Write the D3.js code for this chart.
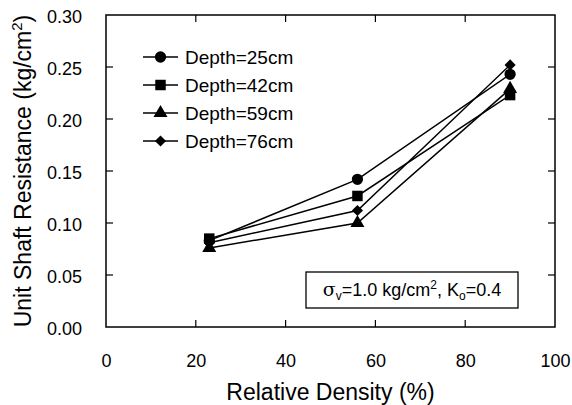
<!DOCTYPE html>
<html>
<head>
<meta charset="utf-8">
<script src="https://cdn.jsdelivr.net/npm/d3@7"></script>
<style>
html, body { margin: 0; padding: 0; background: #fff; }
svg text { font-family: "Liberation Sans", Arial, sans-serif; fill: #000; }
</style>
</head>
<body>
<svg id="chart" width="572" height="405"></svg>
<script>
// ---- data ----
const relativeDensity = [23, 56, 90];
const seriesNames = ["Depth=25cm", "Depth=42cm", "Depth=59cm", "Depth=76cm"];
const depth25 = [0.083, 0.142, 0.243];
const depth42 = [0.085, 0.126, 0.223];
const depth59 = [0.076, 0.100, 0.229];
const depth76 = [0.081, 0.112, 0.252];
const seriesValues = [depth25, depth42, depth59, depth76];
const xTicks = [0, 20, 40, 60, 80, 100];
const yTicks = [0.00, 0.05, 0.10, 0.15, 0.20, 0.25, 0.30];
const markerTypes = ["circle", "square", "triangle", "diamond"];

// ---- layout ----
const svg = d3.select("#chart");
const pLeft = 106, pRight = 555, pTop = 15, pBottom = 327;
const x = d3.scaleLinear().domain([0, 100]).range([pLeft, pRight]);
const y = d3.scaleLinear().domain([0, 0.30]).range([pBottom, pTop]);

const symbolFor = {
  circle: d3.symbol().type(d3.symbolCircle).size(100),
  square: d3.symbol().type(d3.symbolSquare).size(110),
  triangle: d3.symbol().type(d3.symbolTriangle).size(85),
  diamond: d3.symbol().type(d3.symbolSquare).size(62)
};
const rotFor = { circle: 0, square: 0, triangle: 0, diamond: 45 };

// frame
svg.append("rect")
  .attr("x", pLeft).attr("y", pTop)
  .attr("width", pRight - pLeft).attr("height", pBottom - pTop)
  .attr("fill", "none").attr("stroke", "#000").attr("stroke-width", 1.5);

const tickLen = 7;
const innerX = xTicks.filter(d => d > 0 && d < 100);
const innerY = yTicks.filter(d => d > 0 && d < 0.3);

// axes with inward ticks
const gB = svg.append("g").attr("transform", `translate(0,${pBottom})`)
  .call(d3.axisBottom(x).tickValues(xTicks).tickSize(0).tickPadding(24).tickFormat(d3.format("d")));
const gL = svg.append("g").attr("transform", `translate(${pLeft},0)`)
  .call(d3.axisLeft(y).tickValues(yTicks).tickSize(0).tickPadding(24).tickFormat(d3.format(".2f")));
[gB, gL].forEach(g => {
  g.select(".domain").remove();
  g.selectAll("text").style("font-size", "18px").style("font-family", "Liberation Sans, Arial, sans-serif");
});
gL.selectAll("text").attr("dy", "0.42em");
gB.selectAll("text").attr("dy", "0.9em");

const tickG = svg.append("g").attr("stroke", "#000").attr("stroke-width", 1.2);
innerX.forEach(v => {
  tickG.append("line").attr("x1", x(v)).attr("x2", x(v)).attr("y1", pBottom).attr("y2", pBottom - tickLen);
  tickG.append("line").attr("x1", x(v)).attr("x2", x(v)).attr("y1", pTop).attr("y2", pTop + tickLen);
});
innerY.forEach(v => {
  tickG.append("line").attr("x1", pLeft).attr("x2", pLeft + tickLen).attr("y1", y(v)).attr("y2", y(v));
  tickG.append("line").attr("x1", pRight).attr("x2", pRight - tickLen).attr("y1", y(v)).attr("y2", y(v));
});

// series
const line = d3.line().x((d, i) => x(relativeDensity[i])).y(d => y(d));
seriesValues.forEach((vals, si) => {
  svg.append("path").datum(vals)
    .attr("d", line).attr("fill", "none").attr("stroke", "#000").attr("stroke-width", 1.5);
});
seriesValues.forEach((vals, si) => {
  const t = markerTypes[si];
  svg.append("g").selectAll("path").data(vals).join("path")
    .attr("d", symbolFor[t])
    .attr("transform", (d, i) => `translate(${x(relativeDensity[i])},${y(d)}) rotate(${rotFor[t]})`)
    .attr("fill", "#000");
});

// legend
const legX1 = 143, legX2 = 178, legY0 = 57, legDY = 28;
seriesNames.forEach((name, i) => {
  const ly = legY0 + i * legDY;
  const t = markerTypes[i];
  svg.append("line").attr("x1", legX1).attr("x2", legX2).attr("y1", ly).attr("y2", ly)
    .attr("stroke", "#000").attr("stroke-width", 1.5);
  svg.append("path").attr("d", symbolFor[t])
    .attr("transform", `translate(${(legX1 + legX2) / 2},${ly}) rotate(${rotFor[t]})`).attr("fill", "#000");
  svg.append("text").attr("x", 185).attr("y", ly).attr("dy", "0.36em")
    .style("font-size", "19px").text(name);
});

// annotation box
svg.append("rect").attr("x", 306).attr("y", 272).attr("width", 212).attr("height", 36)
  .attr("fill", "#fff").attr("stroke", "#000").attr("stroke-width", 1.3);
const ann = svg.append("text").attr("x", 412).attr("y", 296).attr("text-anchor", "middle")
  .style("font-size", "18px");
ann.append("tspan").text("σ").style("font-family", "DejaVu Serif, serif").style("font-size", "19px");
ann.append("tspan").text("v").attr("dy", 4).style("font-size", "12px");
ann.append("tspan").text("=1.0 kg/cm").attr("dy", -4);
ann.append("tspan").text("2").attr("dy", -7).style("font-size", "12px");
ann.append("tspan").text(", K").attr("dy", 7);
ann.append("tspan").text("o").attr("dy", 4).style("font-size", "12px");
ann.append("tspan").text("=0.4").attr("dy", -4);

// axis titles
svg.append("text").attr("x", (pLeft + pRight) / 2).attr("y", 400).attr("text-anchor", "middle")
  .style("font-size", "23px").text("Relative Density (%)");
const yt = svg.append("text").attr("transform", `translate(31,${(pTop + pBottom) / 2}) rotate(-90)`)
  .attr("text-anchor", "middle").style("font-size", "23px");
yt.append("tspan").text("Unit Shaft Resistance (kg/cm");
yt.append("tspan").text("2").attr("dy", -9).style("font-size", "15px");
yt.append("tspan").text(")").attr("dy", 9);
</script>
</body>
</html>
